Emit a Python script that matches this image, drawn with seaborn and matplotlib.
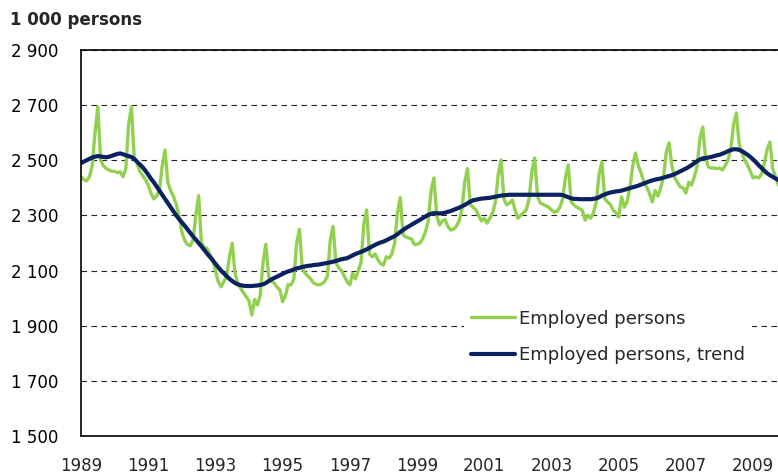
import seaborn as sns
import matplotlib.pyplot as plt
import matplotlib.ticker as mticker
import pandas as pd
from matplotlib.lines import Line2D

# Employed persons, monthly, Jan 1989 - Oct 2009 (1 000 persons)
start_year = 1989
employed = [
    2440, 2430, 2425, 2440, 2480, 2600, 2694, 2500, 2480, 2470, 2465, 2460,  # 1989
    2460, 2455, 2458, 2440, 2470, 2630, 2694, 2510, 2490, 2460, 2445, 2430,  # 1990
    2410, 2380, 2360, 2370, 2390, 2480, 2537, 2420, 2390, 2370, 2340, 2300,  # 1991
    2240, 2210, 2195, 2190, 2210, 2300, 2372, 2200, 2185, 2180, 2160, 2140,  # 1992
    2100, 2060, 2041, 2060, 2080, 2150, 2199, 2090, 2055, 2036, 2020, 2005,  # 1993
    1990, 1939, 1995, 1975, 2010, 2130, 2195, 2080, 2060, 2055, 2040, 2030,  # 1994
    1987, 2010, 2050, 2048, 2070, 2200, 2250, 2110, 2090, 2080, 2070, 2055,  # 1995
    2050, 2048, 2052, 2060, 2080, 2210, 2260, 2130, 2110, 2100, 2080, 2060,  # 1996
    2048, 2090, 2070, 2100, 2130, 2270, 2320, 2160, 2150, 2160, 2140, 2125,  # 1997
    2120, 2150, 2145, 2160, 2200, 2310, 2365, 2230, 2222, 2218, 2215, 2195,  # 1998
    2195, 2200, 2215, 2240, 2280, 2390, 2436, 2300, 2265, 2280, 2285, 2260,  # 1999
    2247, 2250, 2260, 2280, 2320, 2420, 2470, 2340, 2330, 2320, 2300, 2280,  # 2000
    2290, 2272, 2290, 2310, 2350, 2450, 2501, 2360, 2338, 2345, 2356, 2320,  # 2001
    2290, 2300, 2310, 2320, 2360, 2460, 2508, 2370, 2345, 2340, 2335, 2330,  # 2002
    2320, 2312, 2315, 2330, 2360, 2440, 2483, 2350, 2338, 2330, 2325, 2318,  # 2003
    2283, 2300, 2290, 2310, 2350, 2450, 2494, 2360, 2349, 2340, 2320, 2310,  # 2004
    2294, 2367, 2330, 2350, 2400, 2480, 2526, 2480, 2454, 2420, 2403, 2380,  # 2005
    2349, 2390, 2370, 2400, 2440, 2530, 2563, 2480, 2436, 2420, 2403, 2400,  # 2006
    2381, 2420, 2410, 2440, 2480, 2580, 2621, 2510, 2476, 2472, 2472, 2470,  # 2007
    2472, 2465, 2480, 2500, 2540, 2630, 2671, 2560, 2526, 2500, 2483, 2460,  # 2008
    2436, 2440, 2436, 2450, 2490, 2540, 2566, 2470, 2440, 2410,              # 2009
]
trend = [
    2490, 2495, 2500, 2505, 2510, 2513, 2515, 2514, 2512, 2511, 2513, 2516,  # 1989
    2520, 2523, 2525, 2522, 2518, 2515, 2512, 2505, 2495, 2485, 2475, 2462,  # 1990
    2448, 2433, 2420, 2405, 2390, 2375, 2360, 2345, 2330, 2315, 2300, 2287,  # 1991
    2275, 2263, 2250, 2237, 2224, 2212, 2200, 2188, 2175, 2162, 2150, 2138,  # 1992
    2125, 2112, 2100, 2090, 2080, 2070, 2062, 2055, 2050, 2047, 2045, 2044,  # 1993
    2044, 2044, 2045, 2046, 2048, 2050, 2055, 2062, 2068, 2073, 2078, 2083,  # 1994
    2088, 2093, 2097, 2100, 2104, 2108, 2110, 2113, 2115, 2117, 2118, 2120,  # 1995
    2121, 2122, 2124, 2126, 2128, 2130, 2132, 2135, 2138, 2141, 2143, 2145,  # 1996
    2150, 2155, 2160, 2164, 2168, 2172, 2177, 2182, 2188, 2193, 2198, 2202,  # 1997
    2205, 2210, 2215, 2220, 2225, 2232, 2240, 2247, 2254, 2260, 2266, 2272,  # 1998
    2278, 2284, 2290, 2296, 2302, 2306, 2308, 2308, 2307, 2308, 2310, 2313,  # 1999
    2316, 2320, 2324, 2328, 2333, 2338, 2344, 2350, 2355, 2357, 2359, 2361,  # 2000
    2362, 2363, 2364, 2366, 2368, 2370, 2372, 2373, 2374, 2375, 2375, 2375,  # 2001
    2375, 2375, 2375, 2375, 2375, 2375, 2375, 2375, 2375, 2375, 2375, 2375,  # 2002
    2375, 2375, 2375, 2375, 2374, 2370, 2366, 2362, 2360, 2360, 2359, 2359,  # 2003
    2359, 2359, 2359, 2360, 2362, 2366, 2372, 2376, 2380, 2383, 2385, 2387,  # 2004
    2388, 2390, 2393, 2396, 2399, 2402, 2405, 2408, 2412, 2416, 2420, 2424,  # 2005
    2427, 2430, 2432, 2434, 2437, 2440, 2443, 2446, 2450, 2455, 2460, 2465,  # 2006
    2470, 2476, 2482, 2490, 2497, 2503, 2507, 2508, 2510, 2512, 2515, 2518,  # 2007
    2520, 2524, 2528, 2533, 2537, 2540, 2540, 2538, 2533, 2527, 2520, 2512,  # 2008
    2503, 2493, 2482, 2472, 2462, 2453, 2446, 2440, 2434, 2428,              # 2009
]
y_ticks = [1500, 1700, 1900, 2100, 2300, 2500, 2700, 2900]
x_labels = [1989, 1991, 1993, 1995, 1997, 1999, 2001, 2003, 2005, 2007, 2009]

# time axis in decimal years
t = [start_year + i / 12 for i in range(len(employed))]
df = pd.DataFrame({"time": t * 2,
                   "value": employed + trend,
                   "series": ["Employed persons"] * len(t) + ["Employed persons, trend"] * len(t)})

sns.set_style("white")
plt.rcParams['font.family'] = ['DejaVu Sans']

green = "#92d050"
navy = "#0b2260"

fig = plt.figure(figsize=(7.78, 4.76), dpi=100)
ax = fig.add_axes([81 / 778, 1 - 436 / 476, 1 - 81 / 778, 386 / 476])

sns.lineplot(data=df, x="time", y="value", hue="series",
             palette={"Employed persons": green, "Employed persons, trend": navy},
             ax=ax, legend=False)
ax.lines[0].set_linewidth(2.4)
ax.lines[1].set_linewidth(3.0)

ax.set_xlim(1989, 2009.74)
ax.set_ylim(1500, 2900)
ax.set_xlabel("")
ax.set_ylabel("")

ax.set_yticks(y_ticks)
ax.yaxis.set_major_formatter(mticker.FuncFormatter(lambda v, p: f"{int(v):,}".replace(",", " ")))
ax.set_xticks(x_labels)
ax.set_xticks(range(1990, 2010, 2), minor=True)
ax.set_xticklabels([str(y) for y in x_labels])

ax.tick_params(axis="y", direction="out", length=6, width=1, labelsize=12, pad=10, colors="black")
ax.tick_params(axis="x", which="major", direction="inout", length=8, width=1, labelsize=12, pad=11)
ax.tick_params(axis="x", which="minor", direction="in", length=4, width=1)

ax.grid(axis="y", color="#222222", linestyle=(0, (5, 4)), linewidth=0.8)
ax.set_axisbelow(True)
for side in ["left", "bottom", "top"]:
    ax.spines[side].set_color("black")
    ax.spines[side].set_linewidth(1.2)
ax.spines["right"].set_visible(False)

fig.text(10 / 778, 1 - 20 / 476, "1 000 persons", fontsize=12, fontweight="bold", va="center", ha="left")

handles = [Line2D([], [], color=green, lw=2.4), Line2D([], [], color=navy, lw=3.0)]
leg = ax.legend(handles, ["Employed persons", "Employed persons, trend"],
                loc="center left", bbox_to_anchor=(455 / 778, 1 - 337 / 476),
                bbox_transform=fig.transFigure, fontsize=13, frameon=True,
                facecolor="white", edgecolor="none", framealpha=1, fancybox=False,
                handlelength=2.4, handletextpad=0.25, labelspacing=1.05, borderpad=0.4)

fig.savefig("out.png", dpi=100)
